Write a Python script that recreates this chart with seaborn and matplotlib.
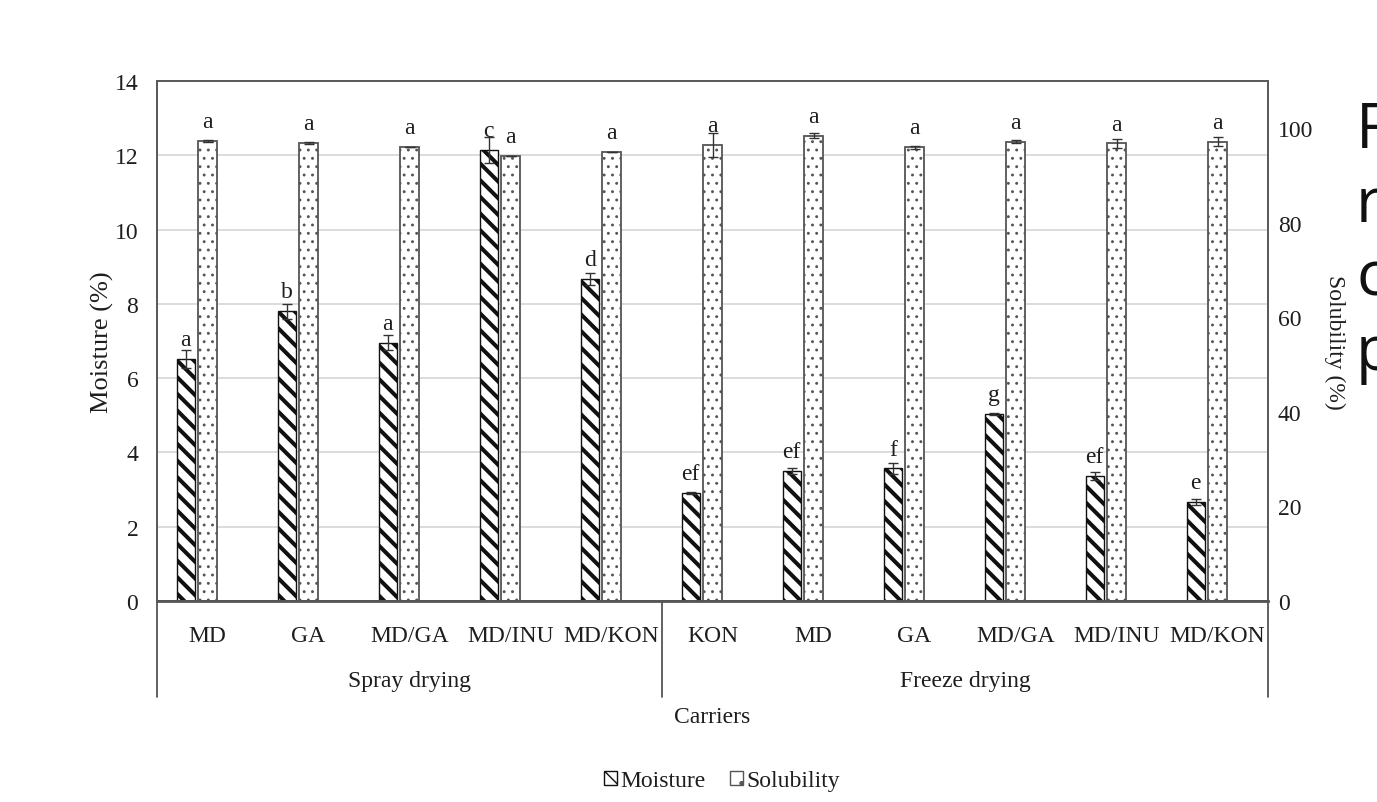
import numpy as np
import pandas as pd
import matplotlib
matplotlib.use("Agg")
import matplotlib.pyplot as plt
import matplotlib.patches as mpatches
import matplotlib.transforms as mtransforms
import seaborn as sns

# ---------------- data ----------------
methods = ["Spray drying"] * 5 + ["Freeze drying"] * 6
group_names = ["Spray drying", "Freeze drying"]
carriers = ["MD", "GA", "MD/GA", "MD/INU", "MD/KON",
            "KON", "MD", "GA", "MD/GA", "MD/INU", "MD/KON"]
moisture = [6.52, 7.80, 6.95, 12.15, 8.67, 2.91, 3.49, 3.57, 5.03, 3.36, 2.67]
moisture_err = [0.25, 0.20, 0.20, 0.35, 0.15, 0.03, 0.08, 0.15, 0.03, 0.10, 0.08]
moisture_letters = ["a", "b", "a", "c", "d", "ef", "ef", "f", "g", "ef", "e"]
solubility = [97.3, 96.9, 96.0, 94.2, 94.9, 96.5, 98.4, 96.0, 97.2, 96.8, 97.2]
solubility_err = [0.15, 0.15, 0.0, 0.0, 0.0, 2.6, 0.5, 0.3, 0.3, 0.9, 0.9]
solubility_letters = ["a"] * 11
left_ticks = [0, 2, 4, 6, 8, 10, 12, 14]
right_ticks = [0, 20, 40, 60, 80, 100]

# ---------------- style ----------------
sns.set_style("white")
plt.rcParams["font.family"] = ["Liberation Serif", "DejaVu Serif"]
TXT = "#1e1e1e"
FS = 17

keys = [f"{m}|{c}" for m, c in zip(methods, carriers)]
df_m = pd.DataFrame({"key": keys, "value": moisture, "series": "Moisture"})
df_s = pd.DataFrame({"key": keys, "value": solubility, "series": "Solubility"})
hue_order = ["Moisture", "Solubility", "_slot"]
palette = {"Moisture": "white", "Solubility": "white", "_slot": "white"}

fig = plt.figure(figsize=(13.77, 8.03), dpi=100)
W, H = 1377, 803
L, R, T, B = 157, 1268, 82, 602
ax = fig.add_axes([L / W, 1 - B / H, (R - L) / W, (B - T) / H])

sns.barplot(data=df_m, x="key", y="value", hue="series", hue_order=hue_order,
            palette=palette, order=keys, width=0.645, gap=0.163, dodge=True,
            edgecolor="#111111", linewidth=1.0, saturation=1, errorbar=None,
            legend=False, ax=ax)
for p in ax.patches:
    p.set_hatch("\\\\")
    if hasattr(p, "set_hatch_linewidth"):
        p.set_hatch_linewidth(2.9)

ax2 = ax.twinx()
sns.barplot(data=df_s, x="key", y="value", hue="series", hue_order=hue_order,
            palette=palette, order=keys, width=0.645, gap=0.163, dodge=True,
            edgecolor="#555555", linewidth=1.3, saturation=1, errorbar=None,
            legend=False, ax=ax2)
for p in ax2.patches:
    p.set_hatch("..")
    if hasattr(p, "set_hatch_linewidth"):
        p.set_hatch_linewidth(0.9)

ax.set_ylim(0, 14)
ax2.set_ylim(0, 110)

# error bars and letters, positioned from the library-drawn bars
mp = sorted(ax.patches, key=lambda p: p.get_x())
sp = sorted(ax2.patches, key=lambda p: p.get_x())
mx = [p.get_x() + p.get_width() / 2 for p in mp]
sx = [p.get_x() + p.get_width() / 2 for p in sp]
ax.errorbar(mx, moisture, yerr=moisture_err, fmt="none", ecolor="#333333",
            elinewidth=1.0, capsize=3.5, capthick=1.0, zorder=4)
ax2.errorbar(sx, solubility, yerr=solubility_err, fmt="none", ecolor="#333333",
             elinewidth=1.0, capsize=3.5, capthick=1.0, zorder=4)
for x, v, t in zip(mx, moisture, moisture_letters):
    ax.annotate(t, xy=(x, v), xytext=(0, 10), textcoords="offset points",
                ha="center", va="baseline", fontsize=FS, color=TXT, zorder=5)
for x, v, t in zip(sx, solubility, solubility_letters):
    ax2.annotate(t, xy=(x, v), xytext=(0, 10), textcoords="offset points",
                 ha="center", va="baseline", fontsize=FS, color=TXT, zorder=5)

# axes styling
ax.set_yticks(left_ticks)
ax.set_yticklabels([str(t) for t in left_ticks])
ax2.set_yticks(right_ticks)
ax2.set_yticklabels([str(t) for t in right_ticks])
ax.yaxis.grid(True, color="#d9d9d9", linewidth=1.3)
ax.xaxis.grid(False)
ax2.grid(False)
ax.set_axisbelow(True)
ax.tick_params(axis="y", length=0, pad=13.5, labelsize=FS, labelcolor=TXT)
ax2.tick_params(axis="y", length=0, pad=7, labelsize=FS, labelcolor=TXT)

ax.set_xticks(range(len(carriers)))
ax.set_xticklabels(carriers)
ax.tick_params(axis="x", length=0, pad=17, labelsize=FS, labelcolor=TXT)
ax.set_xlim(-0.5, len(carriers) - 0.5)
ax.set_xlabel("")

for a in (ax, ax2):
    for s in a.spines.values():
        s.set_visible(True)
        s.set_color("#5a5a5a")
        s.set_linewidth(1.3)
ax2.spines["bottom"].set_linewidth(2.0)
ax2.spines["bottom"].set_color("#555555")

ax.set_ylabel("Moisture (%)", fontsize=19, color=TXT)
ax.yaxis.label.set_verticalalignment("center")
ax.yaxis.set_label_coords((102 - L) / (R - L), 0.5)
ax2.set_ylabel("Solubility (%)", fontsize=17, color=TXT, rotation=270)
ax2.yaxis.label.set_verticalalignment("center")
ax2.yaxis.set_label_coords((1335 - L) / (R - L), 0.5)

# group separators and group labels below the axis
trans = mtransforms.blended_transform_factory(ax.transData, ax.transAxes)
sizes = [methods.count(g) for g in group_names]
bounds = [-0.5] + list(np.cumsum(sizes) - 0.5)
y_low = (B - 698) / (B - T)
for b in bounds:
    ax.plot([b, b], [0, y_low], transform=trans, color="#555555", lw=1.3,
            clip_on=False)
start = 0
for g, n in zip(group_names, sizes):
    ax.text(start + (n - 1) / 2, (B - 682) / (B - T), g, transform=trans,
            ha="center", va="center", fontsize=FS, color=TXT)
    start += n
ax.text(0.5, (B - 718) / (B - T), "Carriers", transform=ax.transAxes,
        ha="center", va="center", fontsize=FS, color=TXT)

# legend
h1 = mpatches.Patch(facecolor="white", edgecolor="#111111", hatch="\\\\", label="Moisture")
h2 = mpatches.Patch(facecolor="white", edgecolor="#555555", hatch=".", label="Solubility")
fig.legend(handles=[h1, h2], loc="center", bbox_to_anchor=(722 / W, 1 - 782 / H),
           ncol=2, frameon=False, fontsize=FS, handlelength=0.55, handleheight=0.55,
           handletextpad=0.15, columnspacing=1.0, labelcolor=TXT)

# slide text clipped at the right edge (as in the reference)
for txt, yb in zip(["F", "r", "c", "p"], [148, 222, 296, 370]):
    fig.text(1356 / W, 1 - yb / H, txt, fontsize=45, family=["Open Sans", "DejaVu Sans"],
             ha="left", va="baseline", color="#111111")

fig.savefig("out.png", dpi=100)
